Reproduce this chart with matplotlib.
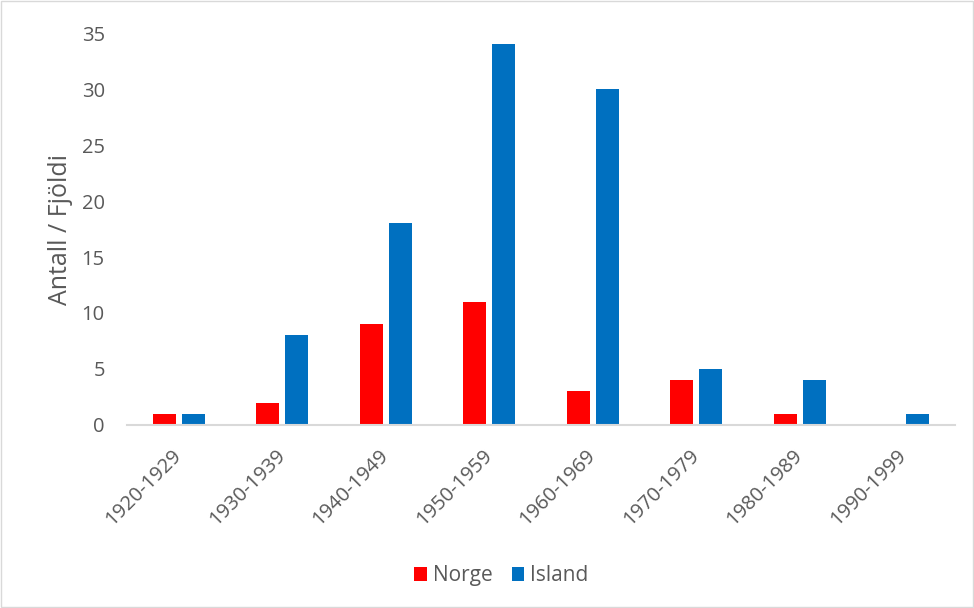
import matplotlib.pyplot as plt
import numpy as np
from matplotlib.patches import Rectangle

# data
perioder = ['1920-1929', '1930-1939', '1940-1949', '1950-1959',
            '1960-1969', '1970-1979', '1980-1989', '1990-1999']
norge = [1, 2, 9, 11, 3, 4, 1, 0]
island = [1, 8, 18, 34, 30, 5, 4, 1]

tekst_farge = '#595959'
plt.rcParams['font.family'] = ['Open Sans', 'DejaVu Sans']

fig = plt.figure(figsize=(9.74, 6.08), dpi=100)
ax = fig.add_axes([0.1304, 0.301, 0.8501, 0.6447])

x = np.arange(len(perioder))
bredde = 0.22
ax.bar(x - 0.14, norge, bredde, color='#FF0000', label='Norge')
ax.bar(x + 0.14, island, bredde, color='#0070C0', label='Island')

ax.set_xlim(-0.5, len(perioder) - 0.5)
ax.set_ylim(0, 35)
ax.set_yticks(range(0, 36, 5))
ax.set_xticks(x)
ax.set_xticklabels(perioder, rotation=45, ha='right', va='center',
                   rotation_mode='anchor')

for s in ['top', 'right', 'left']:
    ax.spines[s].set_visible(False)
ax.spines['bottom'].set_color('#D9D9D9')
ax.spines['bottom'].set_linewidth(1.5)
ax.tick_params(axis='both', length=0, labelsize=14.5, colors=tekst_farge)
ax.tick_params(axis='y', pad=16)
ax.tick_params(axis='x', pad=20)

ax.set_ylabel('Antall / Fjöldi', fontsize=18, color=tekst_farge, labelpad=6)

fig.legend(loc='center', bbox_to_anchor=(0.515, 0.053), ncol=2, frameon=False,
           fontsize=15, labelcolor=tekst_farge, handlelength=0.6, handleheight=0.6,
           handletextpad=0.3, columnspacing=0.9)

# ramme rundt figuren
fig.patches.append(Rectangle((0.001, 0.001), 0.998, 0.998, transform=fig.transFigure,
                             fill=False, edgecolor='#D9D9D9', linewidth=1))

fig.savefig('out.png', dpi=100)
